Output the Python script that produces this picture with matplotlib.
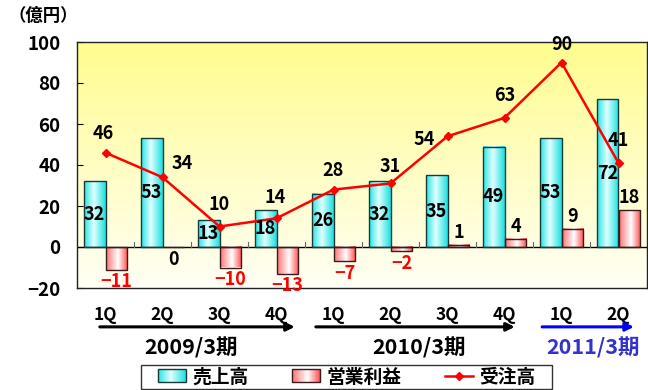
import numpy as np
import matplotlib
matplotlib.use("Agg")
import matplotlib.pyplot as plt
from matplotlib.patches import Patch, Rectangle
from matplotlib.lines import Line2D
from matplotlib.legend_handler import HandlerBase
import matplotlib.transforms as mtrans

plt.rcParams['font.family'] = ['Noto Sans CJK JP', 'DejaVu Sans']
plt.rcParams['font.weight'] = 'bold'

quarters = ["1Q", "2Q", "3Q", "4Q", "1Q", "2Q", "3Q", "4Q", "1Q", "2Q"]
sales = [32, 53, 13, 18, 26, 32, 35, 49, 53, 72]          # 売上高
profit = [-11, 0, -10, -13, -7, -2, 1, 4, 9, 18]          # 営業利益
orders = [46, 34, 10, 14, 28, 31, 54, 63, 90, 41]         # 受注高
years = ["2009/3期", "2010/3期", "2011/3期"]
year_spans = [(0, 3), (4, 7), (8, 9)]
year_colors = ["black", "black", "#3333CC"]
arrow_colors = ["black", "black", "#0000FF"]
yticks = [-20, 0, 20, 40, 60, 80, 100]
series_names = ["売上高", "営業利益", "受注高"]

fig = plt.figure(figsize=(6.48, 3.9), dpi=100)
ax = fig.add_axes([77/648, 102/390, 570/648, 246/390])

x = np.arange(len(quarters))
w = 0.385
ax.set_xlim(-0.5, len(quarters) - 0.5)
ax.set_ylim(-20, 100)

# background gradient
bg = np.linspace(0, 1, 256).reshape(-1, 1)
top = np.array([1.0, 0.99, 0.56])
bot = np.array([1.0, 1.0, 0.96])
bgimg = top[None, None, :] * (1 - bg[:, :, None]) + bot[None, None, :] * bg[:, :, None]
ax.imshow(bgimg, extent=[-0.5, len(quarters) - 0.5, -20, 100], aspect='auto', zorder=0, origin='upper')

def hgrad(c_edge_l, c_mid, c_edge_r, mid=0.45, n=64):
    t = np.linspace(0, 1, n)
    out = np.zeros((1, n, 3))
    for i, tt in enumerate(t):
        if tt < mid:
            f = tt / mid
            out[0, i] = np.array(c_edge_l) * (1 - f) + np.array(c_mid) * f
        else:
            f = (tt - mid) / (1 - mid)
            out[0, i] = np.array(c_mid) * (1 - f) + np.array(c_edge_r) * f
    return out

cyan_grad = hgrad((0.15, 0.9, 0.9), (0.88, 1.0, 1.0), (0.1, 0.88, 0.88))
red_grad = hgrad((1.0, 0.45, 0.45), (1.0, 1.0, 1.0), (1.0, 0.3, 0.3), mid=0.55)

b1 = ax.bar(x - w/2, sales, width=w, facecolor='none', edgecolor='#1a3a3a', linewidth=1.0, zorder=3)
b2 = ax.bar(x + w/2, profit, width=w, facecolor='none', edgecolor='#3a1a1a', linewidth=1.0, zorder=3)
for bars, g in ((b1, cyan_grad), (b2, red_grad)):
    for p in bars:
        x0, y0 = p.get_x(), p.get_y()
        ww, hh = p.get_width(), p.get_height()
        if hh == 0:
            continue
        ax.imshow(g, extent=[x0, x0 + ww, min(y0, y0 + hh), max(y0, y0 + hh)], aspect='auto', zorder=2)

ax.axhline(0, color='black', linewidth=1.0, zorder=2.5)

ax.plot(x, orders, color='#FF0000', linewidth=1.8, marker='D', markersize=4.5, zorder=4)

LBL = 13
# labels
for xi, v in zip(x, sales):
    ax.text(xi - w/2, v/2, str(v), ha='center', va='center', fontsize=LBL, fontweight='bold', zorder=5)
for xi, v in zip(x, profit):
    if v < 0:
        ax.annotate(str(v).replace('-', '−'), (xi + w/2, v), xytext=(0, -2), textcoords='offset points',
                    ha='center', va='top', fontsize=LBL, fontweight='bold', color='#FF0000', zorder=5)
    elif v > 0:
        ax.annotate(str(v), (xi + w/2, v), xytext=(0, 2), textcoords='offset points',
                    ha='center', va='bottom', fontsize=LBL, fontweight='bold', zorder=5)
    else:
        ax.annotate(str(v), (xi + w/2, v), xytext=(0, -2), textcoords='offset points',
                    ha='center', va='top', fontsize=LBL, fontweight='bold', zorder=5)
order_offsets = [(-1.5, 14), (14, 10), (0, 16), (-1, 15), (0, 14), (0, 12), (-16.5, -2), (0, 16), (0, 13), (0, 16.5)]
for xi, v, (dx, dy) in zip(x, orders, order_offsets):
    ax.annotate(str(v), (xi, v), xytext=(dx, dy), textcoords='offset points',
                ha='center', va='center', fontsize=LBL, fontweight='bold', zorder=5)

# axes styling
ax.set_yticks(yticks)
ax.set_yticklabels([str(t).replace('-', '−') for t in yticks], fontsize=13.5, fontweight='bold')
ax.tick_params(axis='y', length=4, direction='in', pad=12)
ax.set_xticks(x)
ax.set_xticklabels(quarters, fontsize=12.5, fontweight='bold')
ax.tick_params(axis='x', length=0, pad=13)
for xb in np.arange(0.5, len(quarters) - 0.5, 1):
    ax.plot([xb, xb], [0, 2.2], color='#666666', linewidth=0.8, zorder=2.6)
for s in ax.spines.values():
    s.set_linewidth(1.0)
    s.set_color('#222222')

arrow_pad = [(-0.1, 0.32), (-0.31, 0.18), (-0.34, 0.27)]
tr = mtrans.blended_transform_factory(ax.transData, ax.transAxes)
for (a, b), name, col, acol, (pa, pb) in zip(year_spans, years, year_colors, arrow_colors, arrow_pad):
    ax.annotate('', xy=(b + pb, -0.158), xytext=(a + pa, -0.158), xycoords=tr, textcoords=tr,
                arrowprops=dict(arrowstyle='-|>', color=acol, lw=2.2, mutation_scale=12,
                                shrinkA=0, shrinkB=0), annotation_clip=False)
    ax.text((a + b) / 2 + (0.0 if b - a > 1 else 0.05), -0.245, name, transform=tr, ha='center', va='center',
            fontsize=15.5, fontweight='bold', color=col)

fig.text(8/648, 1 - 16/390, "（億円）", fontsize=12.5, fontweight='bold', va='center', ha='left')


class GradHandler(HandlerBase):
    def __init__(self, grad, edge):
        super().__init__()
        self.grad = grad
        self.edge = edge

    def create_artists(self, legend, orig_handle, xdescent, ydescent, width, height, fontsize, trans):
        arts = []
        n = self.grad.shape[1]
        h = height * 0.95
        y0 = -ydescent + (height - h) / 2
        for i in range(n):
            arts.append(Rectangle((-xdescent + width * i / n, y0), width / n * 1.05, h,
                                  facecolor=self.grad[0, i], edgecolor='none', transform=trans))
        arts.append(Rectangle((-xdescent, y0), width, h, facecolor='none', edgecolor=self.edge,
                              lw=1.0, transform=trans))
        return arts


h_sales = Patch(facecolor='#7FFFFF', edgecolor='#1a3a3a')
h_profit = Patch(facecolor='#FFB0B0', edgecolor='#3a1a1a')
h_orders = Line2D([0], [0], color='#FF0000', lw=1.8, marker='D', markersize=4.5)
leg = fig.legend([h_sales, h_profit, h_orders], series_names, loc='center',
                 bbox_to_anchor=(347/648, 1 - 377/390), ncol=3,
                 frameon=False, fontsize=13.5, handlelength=1.5, handleheight=0.75,
                 columnspacing=2.3, borderpad=0.15, handletextpad=0.35,
                 handler_map={h_sales: GradHandler(cyan_grad, '#1a3a3a'),
                              h_profit: GradHandler(red_grad, '#3a1a1a')})
fig.patches.append(Rectangle((141/648, 1 - 389/390), 411/648, 24/390, transform=fig.transFigure,
                             facecolor='white', edgecolor='#333333', lw=1.0, zorder=0))

fig.savefig("out.png", dpi=100)
